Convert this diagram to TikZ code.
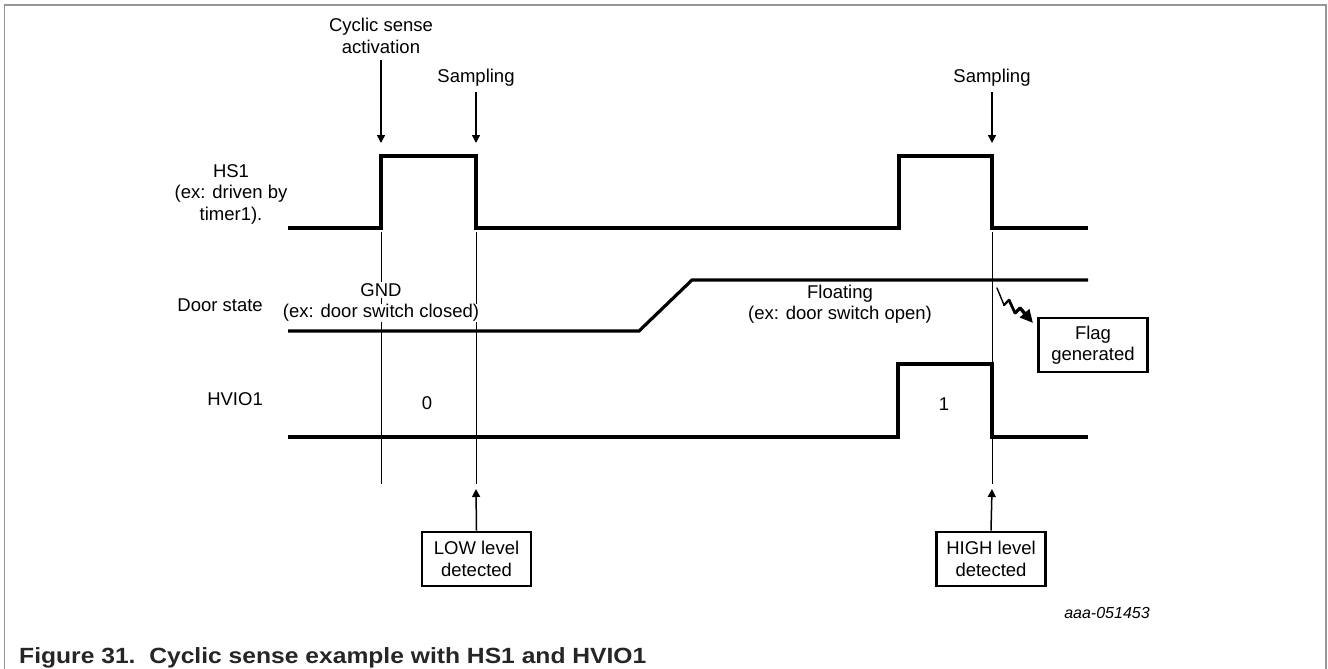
\documentclass[tikz,border=0pt]{standalone}
\usepackage{fontspec}
\setmainfont{Liberation Sans}
\usetikzlibrary{arrows.meta}
\begin{document}
\begin{tikzpicture}[x=1pt,y=-1pt,
  wave/.style={line width=3.2pt,line join=miter},
  thin/.style={line width=0.9pt},
  arr/.style={line width=1.5pt,-{Triangle[length=8pt,width=8pt]}},
  lbl/.style={font=\fontsize{18.5pt}{21.5pt}\selectfont,align=center,inner sep=0pt},
  wlbl/.style={lbl,fill=white,inner sep=1.5pt},
  boxed/.style={draw,line width=2.8pt,font=\fontsize{18.5pt}{21.5pt}\selectfont,align=center,minimum width=109pt,minimum height=54pt,inner sep=0pt},
  bolt/.style={line cap=round},
  frame/.style={line width=1.5pt,draw={rgb,255:red,150;green,150;blue,150}}]
\useasboundingbox (0,0) rectangle (1328,669);
\draw[frame] (4.5,669) -- (4.5,5) -- (1326,5) -- (1326,669);

% thin vertical markers
\coordinate (t1a) at (381,232); \coordinate (t1b) at (381,484);
\coordinate (t2a) at (476,232); \coordinate (t2b) at (476,484);
\coordinate (t3a) at (992,232); \coordinate (t3b) at (992,484);
\draw[thin] (t1a) -- (t1b);
\draw[thin] (t2a) -- (t2b);
\draw[thin] (t3a) -- (t3b);

% waveforms
\draw[wave] (288,228) -- (381,228) -- (381,156) -- (476,156) -- (476,228) -- (899,228) -- (899,156) -- (992,156) -- (992,228) -- (1088,228);
\draw[wave] (288,331) -- (639,331) -- (692,280) -- (1088,280);
\draw[wave] (288,437) -- (898,437) -- (898,364) -- (992,364) -- (992,437) -- (1088,437);

% signal labels
\node[lbl] (hs1) at (231,194) {HS1\\(ex: driven by\\timer1).};
\node[lbl,anchor=east] (door) at (263,305) {Door state};
\node[lbl,anchor=east] (hvio) at (263,399) {HVIO1};

% top annotations
\node[lbl] (cyc) at (381,36) {Cyclic sense\\activation};
\node[lbl] (samp1) at (476,78) {Sampling};
\node[lbl] (samp2) at (992,78) {Sampling};
\coordinate (c1) at (381,60); \coordinate (c1t) at (381,143);
\coordinate (s1) at (476,92); \coordinate (s1t) at (476,143);
\coordinate (s2) at (992,92); \coordinate (s2t) at (992,143);
\draw[arr] (c1) -- (c1t);
\draw[arr] (s1) -- (s1t);
\draw[arr] (s2) -- (s2t);

% door state texts
\node[wlbl] (gnd) at (381,290) {GND};
\node[wlbl,inner sep=0.5pt] (gndex) at (381,313) {(ex: door switch closed)};
\node[lbl] (flt) at (840,294) {Floating};
\node[lbl] (fltex) at (840,315) {(ex: door switch open)};

% HVIO1 values
\node[lbl] (v0) at (427,403) {0};
\node[lbl] (v1) at (944,404) {1};

% detection boxes
\node[boxed] (low) at (476.5,559) {LOW level\\detected};
\node[boxed] (high) at (991,559) {HIGH level\\detected};
\coordinate (lt) at (476,489); \coordinate (ht) at (992,489);
\draw[arr] (low.north) -- (lt);
\draw[arr] (high.north) -- (ht);

% flag
\node[boxed] (flag) at (1093,345) {Flag\\generated};
\coordinate (bA) at (997,288);
\coordinate (bB) at (1004,305);
\coordinate (bC) at (1009,300);
\coordinate (bD) at (1015,313);
\coordinate (bE) at (1020,308);
\coordinate (bF) at (1033,323);
\draw[bolt,line width=1.4pt] (bA) -- (bB);
\draw[bolt,line width=2.2pt] (bB) -- (bC);
\draw[bolt,line width=2.8pt] (bC) -- (bD);
\draw[bolt,line width=3.2pt] (bD) -- (bE);
\draw[line width=3.4pt,-{Triangle[length=13pt,width=12pt]}] (bE) -- (bF);

% figure id
\node[font=\fontsize{16pt}{18pt}\selectfont\itshape,inner sep=0pt] (fid) at (1107,613) {aaa-051453};

% caption
\node[anchor=base west,inner sep=0pt,text=black!85] (cap) at (19,663) {\scalebox{1.12}[1]{\fontsize{22pt}{24pt}\selectfont\bfseries Figure 31.\ \ Cyclic sense example with HS1 and HVIO1}};
\end{tikzpicture}
\end{document}
